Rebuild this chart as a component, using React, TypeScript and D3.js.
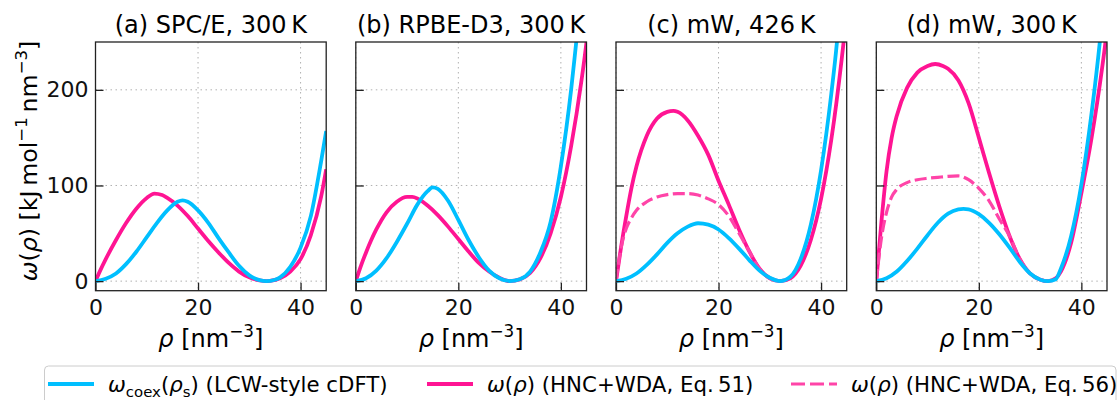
import * as d3 from "d3";
import { useEffect, useRef } from "react";

// panel titles and ticks
const panelTitles = ["(a) SPC/E, 300\u2009K", "(b) RPBE-D3, 300\u2009K", "(c) mW, 426\u2009K", "(d) mW, 300\u2009K"];
const xTicks = [0, 20, 40];
const yTicks = [0, 100, 200];

// [rho, omega]
const coexA = [[0,0],[2,2.5],[4,8],[6,18],[8,31],[10,46],[12,61],[14,74],[16,83],[17,84.5],[18,83],[20,74],[22,61],[24,45],[26,30],[28,16],[30,6],[32,1],[33.3,0],[35,1.5],[36,4],[38,15],[40,35],[42,68],[44,125],[45,157]];
const pinkA = [[0,0],[1,12],[2,23],[4,43],[6,61],[8,76],[10,87],[11.5,91.5],[13,90],[14,87],[16,79],[18,68],[20,55],[22,42],[24,30],[26,19],[28,10],[30,4],[32,0.8],[33.3,0],[34,0.3],[36,3],[38,10],[40,23],[42,48],[44,88],[45,117]];

const coexB = [[0,0],[2,3],[4,11],[6,24],[8,41],[10,60],[12,80],[14,94],[15,98],[16,96.5],[18,84],[20,64],[22,43],[24,25],[26,11],[28,3],[30,0],[32,2],[34,10],[36,30],[38,62],[40,120],[42,200],[43,250],[43.3,265]];
const pinkB = [[0,0],[1,16],[2,30],[4,54],[6,72],[8,83],[10,88],[11,88],[12,86.5],[14,79],[16,69],[18,57],[20,44],[22,31],[24,19],[26,10],[28,3.5],[30,0],[32,1.8],[34,8.5],[36,24],[38,50],[40,88],[42,141],[44,209],[45,250],[45.3,265]];

const coexC = [[0,0],[2,2.5],[4,8],[6,17],[8,28],[10,40],[12,50],[14,57],[16,60.5],[18,59],[20,54],[22,45],[24,34],[26,22],[28,11],[30,3.5],[32,0],[34,4.5],[36,23],[38,59],[40,116],[42,196],[43.1,250],[43.4,268]];
const pinkC = [[0,0],[1,36],[2,68],[3,97],[4,120],[6,152],[8,170],[10,177],[11.2,178],[12,177],[14,168],[16,152],[18,132],[20,105],[22,80],[24,54],[26,31],[28,13],[30,3],[32,0],[34,3],[36,16],[38,43],[40,86],[42,148],[44,231],[44.4,250],[44.7,265]];
const dashC = [[0,0],[1,35],[2,55],[3,66],[4,74],[6,83],[8,88],[10,90.5],[12,91.5],[14,91.5],[16,90],[18,86],[20,80],[22,68],[24,50],[26,31],[28,13],[30,3],[32,0]];

const coexD = [[0,0],[2,3],[4,10],[6,21],[8,34],[10,48],[12,61],[14,70.5],[16,75],[17,75.5],[18,75],[20,70],[22,61],[24,49],[26,35],[28,20],[30,8],[32,1.5],[33.5,0],[35,2],[36,13],[38,47],[40,101],[42,176],[43.6,250],[43.9,266]];
const pinkD = [[0,0],[1,62],[2,115],[3,150],[4,173],[6,202],[8,218],[10,225],[11.5,227],[13,225],[14,222],[16,210],[18,186],[20,150],[22,113],[24,78],[26,47],[28,23],[30,8],[32,1.5],[33.5,0],[35,3],[36,10],[38,40],[40,92],[42,150],[44,221],[44.7,250],[45,265]];
const dashD = [[0,0],[1,45],[2,72],[3,88],[4,96],[6,103],[8,106],[10,107.5],[12,108.5],[14,109.5],[16,110],[18,106],[20,97],[22,84],[24,65],[26,47],[28,23],[30,8],[32,1.5],[33.5,0]];

const panelSeries = [
  { coex: coexA, pink: pinkA, dash: null },
  { coex: coexB, pink: pinkB, dash: null },
  { coex: coexC, pink: pinkC, dash: dashC },
  { coex: coexD, pink: pinkD, dash: dashD },
];

const CYAN = "#00bfff";
const PINK = "#ff1493";
const LIGHTPINK = "#ff44a8";
const DASH = "12,4.5";
const FONT = "DejaVu Sans";
const FS = 22;

// writes text with italic / super / sub parts
function rich(sel, parts, size) {
  let cur = 0;
  parts.forEach((p) => {
    const off = p.sup ? -size * 0.42 : p.sub ? size * 0.22 : 0;
    const ts = sel.append("tspan").text(p.t).attr("dy", off - cur);
    cur = off;
    if (p.sup || p.sub) ts.attr("font-size", size * 0.7);
    if (p.it) ts.attr("font-style", "italic");
  });
}

export default function App() {
  const svgRef = useRef(null);
  const W = 1118, H = 400;
  const top = 42, bottom = 290.7, pw = 230.7;
  const lefts = [95.5, 355.8, 616, 876.3];

  useEffect(() => {
    const svg = d3.select(svgRef.current);
    svg.selectAll("*").remove();
    svg.attr("font-family", FONT).attr("font-size", FS);

    const y = d3.scaleLinear().domain([-10, 250]).range([bottom, top]);

    panelSeries.forEach((s, i) => {
      const left = lefts[i];
      const x = d3.scaleLinear().domain([0, 45]).range([left, left + pw]);
      const g = svg.append("g");

      //CLIP
      svg.append("clipPath").attr("id", "clip" + i)
        .append("rect").attr("x", left).attr("y", top).attr("width", pw).attr("height", bottom - top);

      //GRID
      g.selectAll(".gx").data(xTicks).enter().append("line")
        .attr("x1", (d) => x(d)).attr("x2", (d) => x(d)).attr("y1", top).attr("y2", bottom)
        .attr("stroke", "#b0b0b0").attr("stroke-width", 1).attr("stroke-dasharray", "1.5,3.5");
      g.selectAll(".gy").data(yTicks).enter().append("line")
        .attr("x1", left).attr("x2", left + pw).attr("y1", (d) => y(d)).attr("y2", (d) => y(d))
        .attr("stroke", "#b0b0b0").attr("stroke-width", 1).attr("stroke-dasharray", "1.5,3.5");

      //LINES
      const line = d3.line().x((d) => x(d[0])).y((d) => y(d[1])).curve(d3.curveMonotoneX);
      const lg = g.append("g").attr("clip-path", `url(#clip${i})`).attr("fill", "none");
      lg.append("path").attr("d", line(s.pink)).attr("stroke", PINK).attr("stroke-width", 3.8);
      if (s.dash) {
        lg.append("path").attr("d", line(s.dash)).attr("stroke", LIGHTPINK)
          .attr("stroke-width", 3.2).attr("stroke-dasharray", DASH);
      }
      lg.append("path").attr("d", line(s.coex)).attr("stroke", CYAN).attr("stroke-width", 3.8);

      //FRAME
      g.append("rect").attr("x", left).attr("y", top).attr("width", pw).attr("height", bottom - top)
        .attr("fill", "none").attr("stroke", "#222").attr("stroke-width", 1.3);

      //AXES
      const xAxis = d3.axisBottom(x).tickValues(xTicks).tickSizeInner(-8).tickSizeOuter(0).tickPadding(8.5);
      const xa = g.append("g").attr("transform", `translate(0,${bottom})`).call(xAxis);
      const yAxis = d3.axisLeft(y).tickValues(yTicks).tickSizeInner(-8).tickSizeOuter(0).tickPadding(7)
        .tickFormat(i === 0 ? d3.format("d") : () => "");
      const ya = g.append("g").attr("transform", `translate(${left},0)`).call(yAxis);
      [xa, ya].forEach((a) => {
        a.select(".domain").remove();
        a.attr("font-family", FONT).attr("font-size", FS);
        a.selectAll("line").attr("stroke", "#222").attr("stroke-width", 1.3);
        a.selectAll("text").attr("fill", "#111");
      });

      //TITLE
      g.append("text").attr("x", left + pw / 2).attr("y", 33).attr("text-anchor", "middle")
        .attr("font-size", 24).text(panelTitles[i]);

      //X LABEL
      const xl = g.append("text").attr("x", left + pw / 2).attr("y", 347).attr("text-anchor", "middle")
        .attr("font-size", 24);
      rich(xl, [{ t: "\u03c1", it: true }, { t: " [nm" }, { t: "\u22123", sup: true }, { t: "]" }], 24);
    });

    //Y LABEL
    const yl = svg.append("text").attr("transform", `translate(36.5,161) rotate(-90)`)
      .attr("text-anchor", "middle").attr("font-size", 23.7);
    rich(yl, [
      { t: "\u03c9", it: true }, { t: "(" }, { t: "\u03c1", it: true }, { t: ") [kJ\u2009mol" },
      { t: "\u22121", sup: true }, { t: "\u2009nm" }, { t: "\u22123", sup: true }, { t: "]" },
    ], 23.7);

    //LEGEND
    const LFS = 21.3;
    const leg = svg.append("g").attr("font-size", LFS);
    leg.append("rect").attr("x", 44.5).attr("y", 366).attr("width", 1071.5).attr("height", 60).attr("rx", 4)
      .attr("fill", "white").attr("stroke", "#cccccc").attr("stroke-width", 1);
    const items = [
      { x: 48, color: CYAN, dash: null, parts: [{ t: "\u03c9", it: true }, { t: "coex", sub: true }, { t: "(" }, { t: "\u03c1", it: true }, { t: "s", sub: true }, { t: ") (LCW-style cDFT)" }] },
      { x: 427, color: PINK, dash: null, parts: [{ t: "\u03c9", it: true }, { t: "(" }, { t: "\u03c1", it: true }, { t: ") (HNC+WDA, Eq.\u200951)" }] },
      { x: 791, color: LIGHTPINK, dash: "14,5", parts: [{ t: "\u03c9", it: true }, { t: "(" }, { t: "\u03c1", it: true }, { t: ") (HNC+WDA, Eq.\u200956)" }] },
    ];
    items.forEach((it) => {
      leg.append("line").attr("x1", it.x).attr("x2", it.x + 46).attr("y1", 384).attr("y2", 384)
        .attr("stroke", it.color).attr("stroke-width", it.dash ? 3.2 : 3.8)
        .attr("stroke-dasharray", it.dash);
      const t = leg.append("text").attr("x", it.x + 60).attr("y", 392);
      rich(t, it.parts, LFS);
    });
  }, []);

  return (
    <svg ref={svgRef} width={W} height={H}
      style={{ position: "absolute", left: 0, top: 0, background: "white" }} />
  );
}
